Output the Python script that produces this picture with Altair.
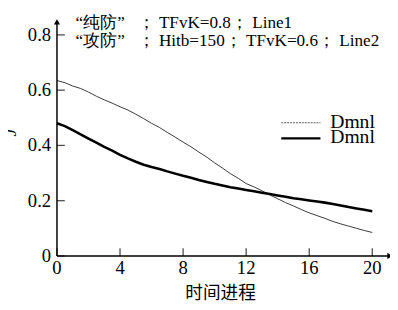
import altair as alt
import pandas as pd

# data
t_thin = [0, 0.5, 1, 1.5, 2, 2.5, 3, 3.5, 4, 4.5, 5, 5.5, 6, 6.5, 7, 7.5, 8, 8.5, 9, 9.5, 10,
          10.5, 11, 11.5, 12, 12.5, 13, 13.5, 14, 14.5, 15, 15.5, 16, 16.5, 17, 17.5, 18, 18.5, 19, 19.5, 20]
v_thin = [0.635, 0.627, 0.615, 0.606, 0.593, 0.578, 0.565, 0.553, 0.540, 0.528, 0.513, 0.497, 0.480,
          0.465, 0.447, 0.430, 0.412, 0.395, 0.376, 0.358, 0.337, 0.318, 0.298, 0.281, 0.262, 0.250,
          0.236, 0.221, 0.207, 0.193, 0.181, 0.168, 0.156, 0.146, 0.136, 0.125, 0.116, 0.108, 0.100,
          0.092, 0.085]
t_thick = t_thin
v_thick = [0.480, 0.470, 0.455, 0.440, 0.425, 0.410, 0.395, 0.381, 0.366, 0.353, 0.341, 0.330, 0.322,
           0.315, 0.306, 0.298, 0.290, 0.283, 0.275, 0.268, 0.261, 0.255, 0.249, 0.244, 0.239, 0.234,
           0.229, 0.224, 0.219, 0.214, 0.209, 0.205, 0.201, 0.197, 0.193, 0.188, 0.183, 0.177, 0.172,
           0.167, 0.162]
x_ticks = [0, 4, 8, 12, 16, 20]
y_ticks = [0, 0.2, 0.4, 0.6, 0.8]
y_tick_labels = ["0", "0.2", "0.4", "0.6", "0.8"]
legend_labels = ["Dmnl", "Dmnl"]
SP3 = "\u00a0\u00a0\u00a0"
SP1 = "\u00a0"
note1 = "“纯防”" + SP3 + "；" + SP1 + "TFvK=0.8；" + SP1 + "Line1"
note2 = "“攻防”" + SP3 + "；" + SP1 + "Hitb=150；" + SP1 + "TFvK=0.6；" + SP1 + "Line2"

W, H = 338, 237
SERIF = "Liberation Serif"

xs = alt.Scale(domain=[0, 21], nice=False, zero=False)
ys = alt.Scale(domain=[0, 0.84], nice=False)
one = pd.DataFrame({"a": [0]})

thin = alt.Chart(pd.DataFrame({"t": t_thin, "v": v_thin})).mark_line(color="#222", strokeWidth=0.9).encode(
    x=alt.X("t:Q", scale=xs, axis=None),
    y=alt.Y("v:Q", scale=ys, axis=None),
)
thick = alt.Chart(pd.DataFrame({"t": t_thick, "v": v_thick})).mark_line(color="#000", strokeWidth=2.6).encode(
    x=alt.X("t:Q", scale=xs, axis=None),
    y=alt.Y("v:Q", scale=ys, axis=None),
)

# axis lines
yline = alt.Chart(one).mark_rule(color="black", strokeWidth=1.5).encode(
    x=alt.value(0), y=alt.value(H), y2=alt.value(-2))
xline = alt.Chart(one).mark_rule(color="black", strokeWidth=1.5).encode(
    x=alt.value(0), x2=alt.value(W + 2), y=alt.value(H))
yarrow = alt.Chart(one).mark_point(
    shape="triangle-up", filled=True, color="black", size=40, opacity=1).encode(
    x=alt.value(0), y=alt.value(-2))
xarrow = alt.Chart(one).mark_point(
    shape="triangle-right", filled=True, color="black", size=40, opacity=1).encode(
    x=alt.value(W + 2), y=alt.value(H))

# ticks (inward)
xt = pd.DataFrame({"t": x_ticks})
xtick_marks = alt.Chart(xt).mark_tick(orient="vertical", color="black", size=8, thickness=1.3).encode(
    x=alt.X("t:Q", scale=xs, axis=None), y=alt.value(H - 4))
xtick_labels = alt.Chart(xt).mark_text(font=SERIF, fontSize=19, baseline="top", dy=3).encode(
    x=alt.X("t:Q", scale=xs, axis=None), y=alt.value(H), text="t:Q")
yt = pd.DataFrame({"v": y_ticks, "lab": y_tick_labels})
ytick_marks = alt.Chart(yt).mark_tick(orient="horizontal", color="black", size=8, thickness=1.3).encode(
    y=alt.Y("v:Q", scale=ys, axis=None), x=alt.value(4))
ytick_labels = alt.Chart(yt).mark_text(font=SERIF, fontSize=19, align="right", baseline="middle", dx=-6).encode(
    y=alt.Y("v:Q", scale=ys, axis=None), x=alt.value(0), text="lab:N")

# axis titles
xtitle = alt.Chart(one).mark_text(
    text="时间进程", font="Noto Sans CJK SC", fontSize=18, align="center", baseline="middle").encode(
    x=alt.value(167), y=alt.value(H + 39))
ytitle = alt.Chart(one).mark_text(
    text="J", font=SERIF, fontSize=18, fontStyle="italic", angle=270, align="center", baseline="middle").encode(
    x=alt.value(-47), y=alt.value(111))

# annotations
n1 = alt.Chart(one).mark_text(
    text=note1, font=SERIF, fontSize=17.5, align="left", baseline="middle").encode(
    x=alt.value(19), y=alt.value(-1))
n2 = alt.Chart(one).mark_text(
    text=note2, font=SERIF, fontSize=17.5, align="left", baseline="middle").encode(
    x=alt.value(19), y=alt.value(18))

# legend
leg1 = alt.Chart(one).mark_rule(color="#444", strokeWidth=0.9, strokeDash=[2, 1]).encode(
    x=alt.value(229), x2=alt.value(269), y=alt.value(101))
leg2 = alt.Chart(one).mark_rule(color="black", strokeWidth=2.4).encode(
    x=alt.value(229), x2=alt.value(269), y=alt.value(117))
legt1 = alt.Chart(one).mark_text(
    text=legend_labels[0], font=SERIF, fontSize=20, align="left", baseline="middle").encode(
    x=alt.value(279), y=alt.value(100))
legt2 = alt.Chart(one).mark_text(
    text=legend_labels[1], font=SERIF, fontSize=20, align="left", baseline="middle").encode(
    x=alt.value(279), y=alt.value(116))

chart = alt.layer(
    thin, thick, yline, xline, yarrow, xarrow, xtick_marks, xtick_labels,
    ytick_marks, ytick_labels, xtitle, ytitle, n1, n2, leg1, leg2, legt1, legt2
).properties(
    width=W, height=H,
    autosize=alt.AutoSizeParams(type="none"),
    padding={"left": 50, "top": 13, "right": 2, "bottom": 52},
).configure_view(stroke=None)

chart.save("out.html", embed_options={"renderer": "svg", "actions": False})
